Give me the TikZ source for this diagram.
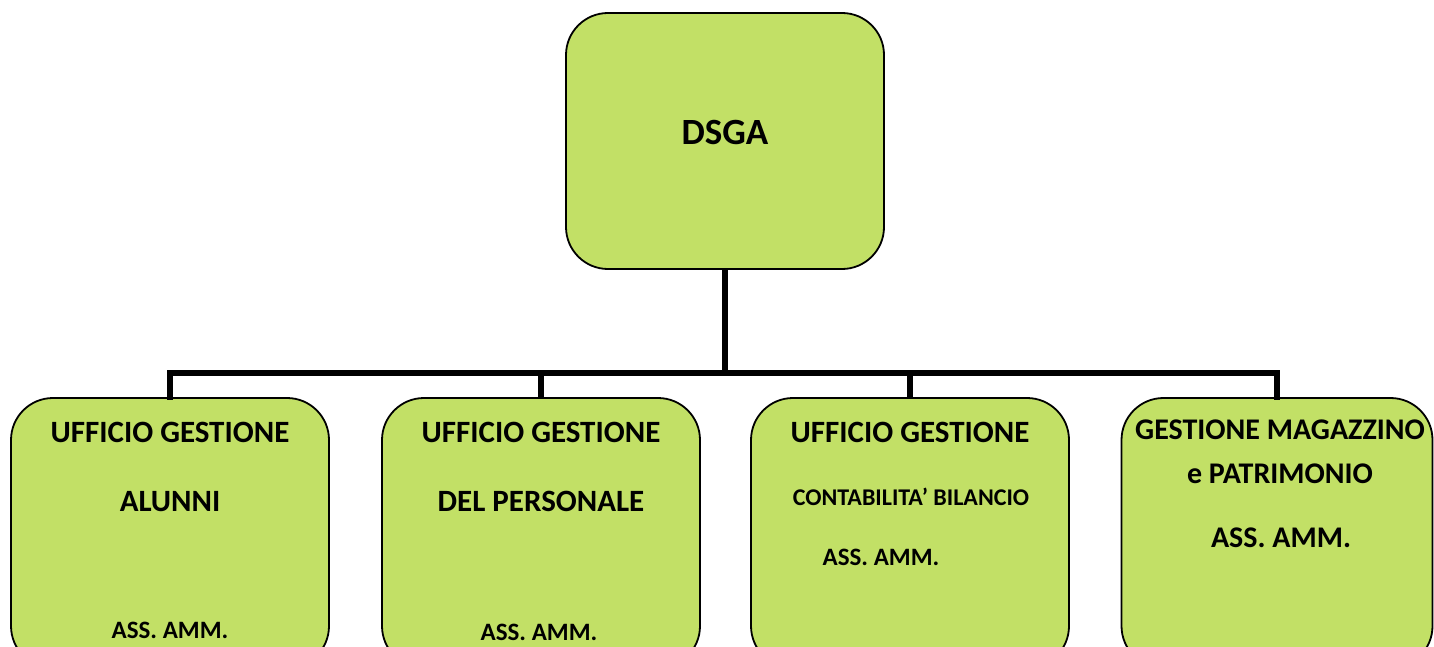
\documentclass[tikz,border=0pt]{standalone}
\usepackage{fontspec}
\setmainfont{Carlito}
\definecolor{boxgreen}{RGB}{194,224,102}

\begin{document}
\begin{tikzpicture}[x = 1pt, y = -1pt]
	\tikzstyle{BoxStyle} = [draw, line width = 1.8pt, fill = boxgreen, rounded corners = 42pt, inner sep = 0pt]
	\tikzstyle{TopStyle} = [BoxStyle, minimum width = 318pt, minimum height = 256pt]
	\tikzstyle{UnitStyle} = [BoxStyle, minimum width = 318pt, minimum height = 270pt]
	\tikzstyle{LinkStyle} = [line width = 6pt]
	\tikzstyle{HeadText} = [font = \bfseries\fontsize{31}{36}\selectfont, inner sep = 0pt]
	\tikzstyle{AssText} = [font = \bfseries\fontsize{25}{30}\selectfont, inner sep = 0pt]
	\tikzstyle{SmallText} = [font = \bfseries\fontsize{24}{28}\selectfont, inner sep = 0pt]
	\tikzstyle{MagText} = [font = \bfseries\fontsize{30}{36}\selectfont, inner sep = 0pt]
	\tikzstyle{TopText} = [font = \bfseries\fontsize{37}{44}\selectfont, inner sep = 0pt]
	\useasboundingbox (0,0) rectangle (1434,647);
	\clip (0,0) rectangle (1434,647);
	% boxes
	\node[TopStyle] (dsga) at (725,141) {};
	\node[UnitStyle] (alunni) at (170,533) {};
	\node[UnitStyle] (personale) at (541,533) {};
	\node[UnitStyle] (contab) at (910,533) {};
	\node[UnitStyle, minimum width = 311pt] (magazzino) at (1277,533) {};
	% connectors
	\coordinate (bus) at (725,373);
	\draw[LinkStyle] (dsga.south) -- (bus);
	\draw[LinkStyle, line cap = rect] (alunni.north) |- (bus) -| (magazzino.north);
	\draw[LinkStyle] (personale.north) -- (personale.north |- bus);
	\draw[LinkStyle] (contab.north) -- (contab.north |- bus);
	% texts
	\node[TopText] (tdsga) at (725,132) {DSGA};
	\node[HeadText] (ta1) at (170,432) {UFFICIO GESTIONE};
	\node[HeadText] (ta2) at (170,502) {ALUNNI};
	\node[AssText] (ta3) at (170,630) {ASS. AMM.};
	\node[HeadText] (tp1) at (541,432) {UFFICIO GESTIONE};
	\node[HeadText] (tp2) at (541,501) {DEL PERSONALE};
	\node[AssText] (tp3) at (539,632) {ASS. AMM.};
	\node[HeadText] (tc1) at (910,432) {UFFICIO GESTIONE};
	\node[SmallText] (tc2) at (911,497) {CONTABILITA’ BILANCIO};
	\node[AssText] (tc3) at (881,557) {ASS. AMM.};
	\node[MagText] (tm1) at (1280,430) {GESTIONE MAGAZZINO};
	\node[MagText] (tm2) at (1280,474) {e PATRIMONIO};
	\node[MagText] (tm3) at (1281,538) {ASS. AMM.};
\end{tikzpicture}
\end{document}
